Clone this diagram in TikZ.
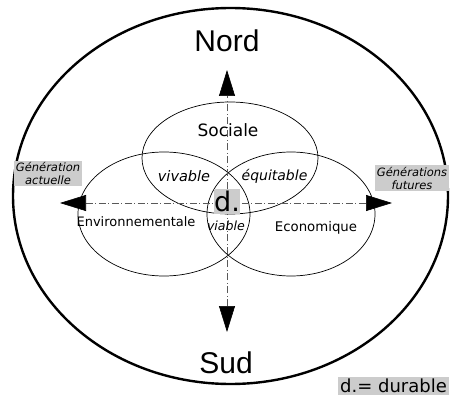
\documentclass[tikz,border=0pt]{standalone}
\usepackage{fontspec}
\setmainfont{DejaVu Sans}
\newfontfamily\arialfont{Liberation Sans}
\usetikzlibrary{shapes.geometric,arrows.meta}

\begin{document}
\begin{tikzpicture}[x=1pt,y=-1pt,
   every node/.style={inner sep=0pt},
   ring/.style={draw,ellipse,line width=.7pt},
   axis/.style={black!65,line width=.6pt,
      dash pattern=on 7pt off 2.5pt on 1pt off 2.5pt,
      {Triangle[length=26pt,width=16pt,color=black,fill=black]}-{Triangle[length=26pt,width=16pt,color=black,fill=black]}},
   greybox/.style={fill=black!20,inner sep=1.5pt,align=center,font=\fontsize{11.5}{13}\selectfont\itshape},
   pole/.style={font=\arialfont\fontsize{30}{30}\selectfont,anchor=base}]

\useasboundingbox (0,0) rectangle (453,404);

\node[ring,line width=2.4pt,minimum width=435pt,minimum height=376pt] (outer) at (230.5,196) {};
\node[ring,minimum width=176pt,minimum height=112pt] (soc) at (230,158) {};
\node[ring,minimum width=172pt,minimum height=124pt] (env) at (164,214) {};
\node[ring,minimum width=168pt,minimum height=124pt] (eco) at (291,214) {};

\coordinate (ntip) at (227,70);
\coordinate (stip) at (227,332);
\coordinate (wtip) at (60,203);
\coordinate (etip) at (392,203);
\draw[axis] (stip) -- (ntip);
\draw[axis] (wtip) -- (etip);

\node[pole] (nord) at (227,52) {Nord};
\node[pole] (sud) at (226,373) {Sud};

\node[font=\fontsize{17}{17}\selectfont] (sociale) at (228,130) {Sociale};
\node[font=\fontsize{13}{13}\selectfont] (envlbl) at (136,222) {Environnementale};
\node[font=\fontsize{13.3}{13.3}\selectfont] (ecolbl) at (316,228) {Economique};
\node[font=\fontsize{14.5}{14.5}\selectfont\itshape] (vivable) at (184,176) {vivable};
\node[font=\fontsize{14}{14}\selectfont\itshape] (equitable) at (274.5,176) {équitable};
\node[font=\fontsize{12.6}{12.6}\selectfont\itshape] (viable) at (226,226) {viable};
\node[fill=black!20,minimum width=24pt,minimum height=25pt,font=\fontsize{27}{27}\selectfont] (d) at (227,201.5) {d.};

\node[greybox] (actuelle) at (48,173.5) {Génération\\actuelle};
\node[greybox] (futures) at (412,178) {Générations\\futures};
\node[fill=black!20,inner sep=2pt,font=\fontsize{18}{18}\selectfont] (legende) at (393.5,386) {d.= durable};

\end{tikzpicture}
\end{document}
